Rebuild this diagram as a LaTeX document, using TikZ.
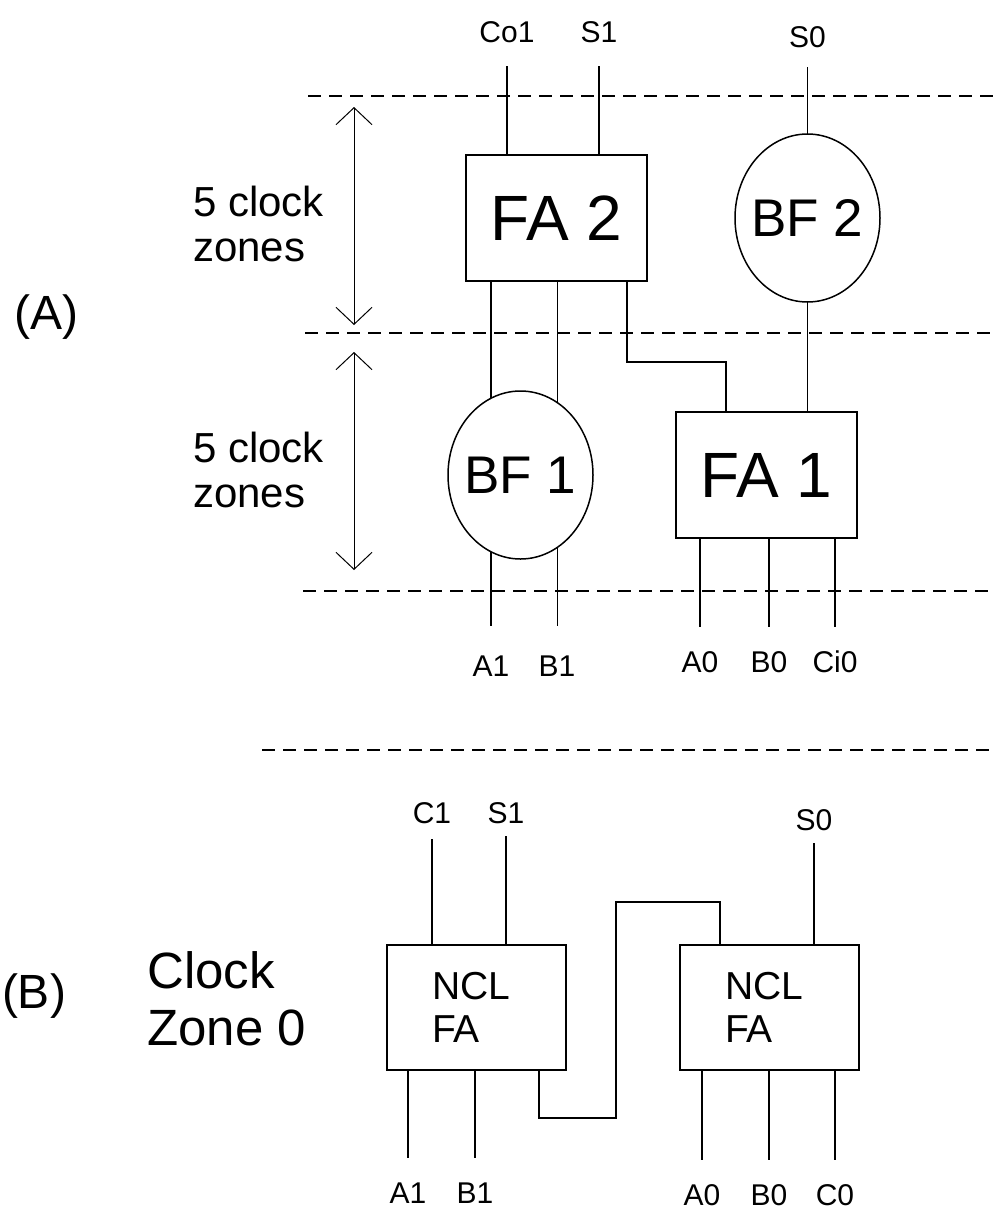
\documentclass[tikz,border=0pt]{standalone}
\usepackage{fontspec}
\setmainfont{Liberation Sans}
\usepackage{tikz}
\usetikzlibrary{arrows.meta, positioning, shapes.geometric, calc}

\begin{document}
\begin{tikzpicture}[x=1pt, y=-1pt,
  fabox/.style={rectangle, draw, line width=2pt, minimum width=181pt,
    minimum height=126pt, inner sep=0pt, outer sep=0pt,
    font=\fontsize{64}{64}\selectfont},
  bfnode/.style={ellipse, draw, line width=1.5pt, minimum width=145pt,
    minimum height=168pt, inner sep=0pt, outer sep=0pt,
    font=\fontsize{53}{53}\selectfont},
  nclbox/.style={rectangle, draw, line width=2pt, minimum height=125pt,
    inner xsep=45pt, inner ysep=0pt, outer sep=0pt, text width=89pt,
    align=left, font=\fontsize{39}{43}\selectfont},
  pin/.style={anchor=base, inner sep=0pt, font=\fontsize{30}{30}\selectfont},
  zonetext/.style={anchor=north west, inner sep=0pt, align=left,
    font=\fontsize{42}{45}\selectfont},
  part/.style={inner sep=0pt, font=\fontsize{48}{48}\selectfont},
  wire/.style={line width=1.3pt},
  zoneline/.style={line width=1.8pt, dash pattern=on 12.5pt off 8.5pt},
  span/.style={line width=1pt,
    {Straight Barb[length=17pt, width=36pt]}-{Straight Barb[length=17pt, width=36pt]}},
]
  \useasboundingbox (0,0) rectangle (994,1221);

  \draw[zoneline] (308,96) -- (994,96);
  \draw[zoneline] (305,333) -- (994,333);
  \draw[zoneline] (303,591) -- (994,591);
  \draw[zoneline] (262,750) -- (994,750);

  \draw[span] (354,107) -- (354,325);
  \draw[span] (354,352) -- (354,570);

  \node[part] (partA) at (46.5,317) {(A)};
  \node[zonetext] (zonesup) at (193,186) {5 clock\\zones};
  \node[zonetext] (zoneslo) at (193,432) {5 clock\\zones};

  \node[fabox] (fa2) at (556.5,218) {FA 2};
  \node[bfnode, right=88pt of fa2] (bf2) {\makebox[0pt]{BF 2}};
  \node[bfnode] (bf1) at (520.5,475) {\makebox[0pt]{BF 1}};
  \node[fabox, right=83pt of bf1] (fa1) {FA 1};

  \foreach \dx/\t [count=\i] in {-49.5/Co1, 42.5/S1} {
    \node[pin] (outA\i) at ([xshift=\dx pt, yshift=113pt]fa2.north) {\t};
    \draw[wire] ([yshift=-24pt]outA\i.base) -- (outA\i |- fa2.north);
  }
  \node[pin] (outA3) at ([yshift=87pt]bf2.north) {S0};
  \draw[wire] ([yshift=-20pt]outA3.base) -- (bf2.north);

  \draw[wire] (bf1.111 |- fa2.south) -- (bf1.111);
  \draw[wire] (bf1.63 |- fa2.south) -- (bf1.63);
  \draw[wire] ([xshift=70.5pt]fa2.south) -- ++(0,81) -| ([xshift=-40.5pt]fa1.north);
  \draw[wire] (bf2.south) -- (bf2.south |- fa1.north);

  \node[pin] (inA1) at (491,676) {A1};
  \node[pin] (inA2) at (557,676) {B1};
  \draw[wire] (bf1.249) -- ([yshift=50pt]bf1.249 |- inA1.base);
  \draw[wire] (bf1.297) -- ([yshift=50pt]bf1.297 |- inA2.base);
  \foreach \dx/\t [count=\i] in {-66.5/A0, 2.5/B0, 68.5/Ci0} {
    \node[pin] (inB\i) at ([xshift=\dx pt, yshift=-134pt]fa1.south) {\t};
    \draw[wire] (fa1.south -| inB\i) -- ([yshift=45pt]inB\i.base);
  }

  \node[part] (partB) at (34,996) {(B)};
  \node[zonetext, font=\fontsize{51}{57}\selectfont] (zoneB) at (147,951) {Clock\\Zone 0};

  \node[nclbox] (ncl1) at (476.5,1007.5) {NCL\\FA};
  \node[nclbox, right=114pt of ncl1] (ncl2) {NCL\\FA};

  \foreach \dx/\t/\g [count=\i] in {-44.5/C1/16, 29.5/S1/13} {
    \node[pin] (outC\i) at ([xshift=\dx pt, yshift=122pt]ncl1.north) {\t};
    \draw[wire] ([yshift=-\g pt]outC\i.base) -- (outC\i |- ncl1.north);
  }
  \node[pin] (outC3) at ([xshift=44.5pt, yshift=115pt]ncl2.north) {S0};
  \draw[wire] ([yshift=-13pt]outC3.base) -- (outC3 |- ncl2.north);

  \draw[wire] ([xshift=62.5pt]ncl1.south) -- ++(0,48) -| ++(77,-216)
    -| ([xshift=-49.5pt]ncl2.north);

  \foreach \dx/\t [count=\i] in {-68.5/A1, -1.5/B1} {
    \node[pin] (inC\i) at ([xshift=\dx pt, yshift=-133pt]ncl1.south) {\t};
    \draw[wire] (ncl1.south -| inC\i) -- ([yshift=45pt]inC\i.base);
  }
  \foreach \dx/\t [count=\i] in {-67.5/A0, -0.5/B0, 65.5/C0} {
    \node[pin] (inD\i) at ([xshift=\dx pt, yshift=-135pt]ncl2.south) {\t};
    \draw[wire] (ncl2.south -| inD\i) -- ([yshift=45pt]inD\i.base);
  }
\end{tikzpicture}
\end{document}
